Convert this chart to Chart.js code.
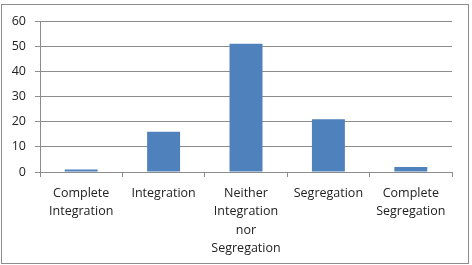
<!DOCTYPE html>
<html>
<head>
<meta charset="utf-8">
<script src="https://cdn.jsdelivr.net/npm/chart.js@4/dist/chart.umd.min.js"></script>
<style>
  html, body { margin: 0; padding: 0; background: #fff; }
  #wrap { position: relative; width: 472px; height: 265px; }
  #frame { position: absolute; left: 1px; top: 4px; width: 466px; height: 258px; border: 1px solid #8c8c8c; }
  #scene { position: absolute; left: 0; top: 0; }
</style>
</head>
<body>
<div id="wrap">
  <div id="frame"></div>
  <canvas id="scene" width="472" height="265"></canvas>
</div>
<script>
// --- Data ---
const categories = [
    ['Complete', 'Integration'],
    'Integration',
    ['Neither', 'Integration', 'nor', 'Segregation'],
    'Segregation',
    ['Complete', 'Segregation']
];
const counts = [1, 16, 51, 21, 2];
const yTicks = [0, 10, 20, 30, 40, 50, 60];

const FONT = "'Open Sans', 'Liberation Sans', sans-serif";
const ctx = document.getElementById('scene').getContext('2d');

const chart = new Chart(ctx, {
    type: 'bar',
    data: {
        labels: categories,
        datasets: [{
            label: 'Count',
            data: counts,
            backgroundColor: '#4f81bd',
            borderWidth: 0,
            barPercentage: 0.4,
            categoryPercentage: 1
        }]
    },
    options: {
        animation: false,
        responsive: false,
        devicePixelRatio: 1,
        layout: { padding: { top: 21, right: 20, left: 0, bottom: 0 } },
        plugins: { legend: { display: false }, tooltip: { enabled: false } },
        scales: {
            x: {
                afterFit: axis => { axis.height = 93; },
                grid: { drawOnChartArea: false, drawTicks: true, tickLength: 5, color: '#8c8c8c', offset: true },
                border: { display: true, color: '#8c8c8c' },
                ticks: {
                    color: '#222',
                    font: { family: FONT, size: 12.5, lineHeight: 1.48 },
                    maxRotation: 0, autoSkip: false, padding: 7
                }
            },
            y: {
                min: yTicks[0],
                max: yTicks[yTicks.length - 1],
                afterBuildTicks: axis => { axis.ticks = yTicks.map(v => ({ value: v })); },
                afterFit: axis => { axis.width = 40; },
                grid: { color: '#8c8c8c', tickLength: 5 },
                border: { display: true, color: '#8c8c8c' },
                ticks: {
                    color: '#222',
                    font: { family: FONT, size: 12.5 },
                    padding: 9
                }
            }
        }
    }
});
</script>
</body>
</html>
